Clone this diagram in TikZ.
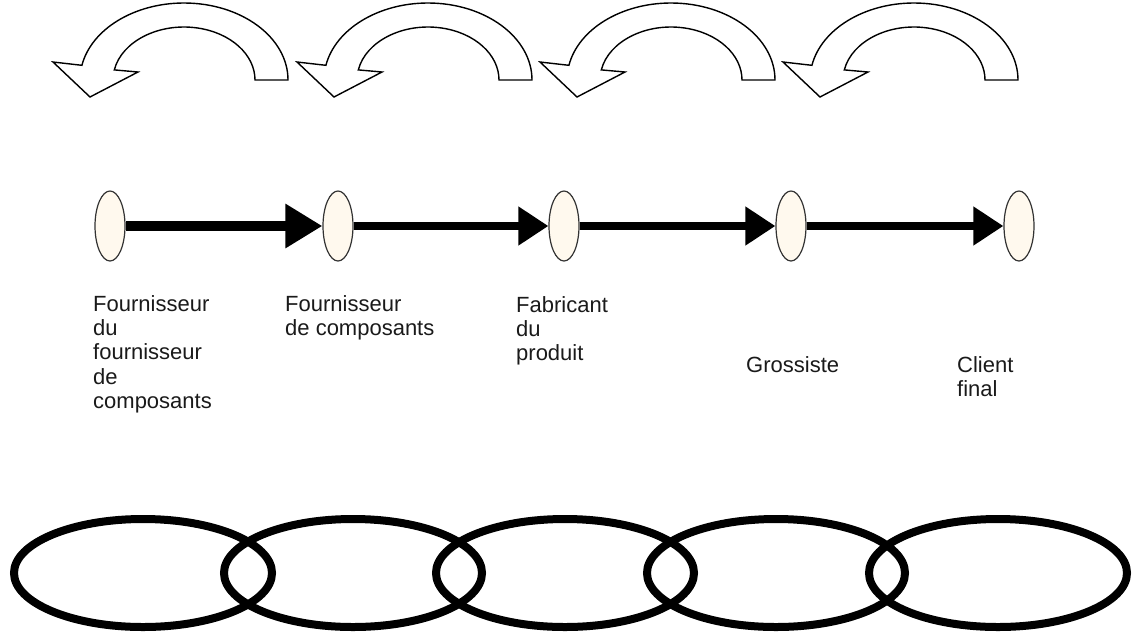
\documentclass[tikz,border=0pt]{standalone}
\usepackage{fontspec}
\setmainfont{Liberation Sans}
\usetikzlibrary{arrows.meta,shapes.geometric}
\definecolor{stagefill}{HTML}{FFF9EE}
\definecolor{txt}{HTML}{1A1A1A}
\begin{document}
\begin{tikzpicture}[x=1pt,y=1pt,
  stage/.style={ellipse, draw=black!80, line width=1.2pt, fill=stagefill,
    minimum width=30pt, minimum height=70pt, inner sep=0pt},
  flow/.style={line width=8pt, -{Triangle[length=30pt,width=37pt]}},
  bigflow/.style={line width=10pt, -{Triangle[length=37pt,width=42pt]}},
  lbl/.style={font=\fontsize{22}{24.4}\selectfont, text=txt, align=left, anchor=base west, inner sep=0pt},
  chainlink/.style={ellipse, draw=black, line width=8pt, minimum width=258pt,
    minimum height=108pt, inner sep=0pt},
  uturnline/.style={draw=black, line width=1.4pt, fill=white, line join=miter},
  uturnarrow/.pic={
    \draw[uturnline] (288,-80)
      arc[start angle=0, end angle=169, x radius=104pt, y radius=77pt]
      -- (53,-62) -- (90,-97) -- (138,-72) -- (114.3,-69.9)
      arc[start angle=169, end angle=0, x radius=71pt, y radius=53pt]
      -- cycle;
  }]
\useasboundingbox (0,0) rectangle (1138,-638);

% return arrows
\pic at (0,0) {uturnarrow};
\pic at (244,0) {uturnarrow};
\pic at (487,0) {uturnarrow};
\pic at (730,0) {uturnarrow};

% stages
\node[stage] (s1) at (110,-226) {};
\node[stage] (s2) at (338,-226) {};
\node[stage] (s3) at (564,-226) {};
\node[stage] (s4) at (791,-226) {};
\node[stage] (s5) at (1019,-226) {};

\draw[bigflow] (s1.east) -- (s2.west);
\draw[flow] (s2.east) -- (s3.west);
\draw[flow] (s3.east) -- (s4.west);
\draw[flow] (s4.east) -- (s5.west);

% labels (anchored at the baseline of their last line)
\node[lbl] (l1) at (93,-408.6) {Fournisseur\\du\\fournisseur\\de\\composants};
\node[lbl] (l2) at (285,-335.4) {Fournisseur\\de composants};
\node[lbl] (l3) at (516,-360.8) {Fabricant\\du\\produit};
\node[lbl] (l4) at (746,-372) {Grossiste};
\node[lbl] (l5) at (957,-396.4) {Client\\final};

% chain
\node[chainlink] (c1) at (143,-573) {};
\node[chainlink] (c2) at (353,-573) {};
\node[chainlink] (c3) at (565,-573) {};
\node[chainlink] (c4) at (776,-573) {};
\node[chainlink] (c5) at (998,-573) {};
\end{tikzpicture}
\end{document}
